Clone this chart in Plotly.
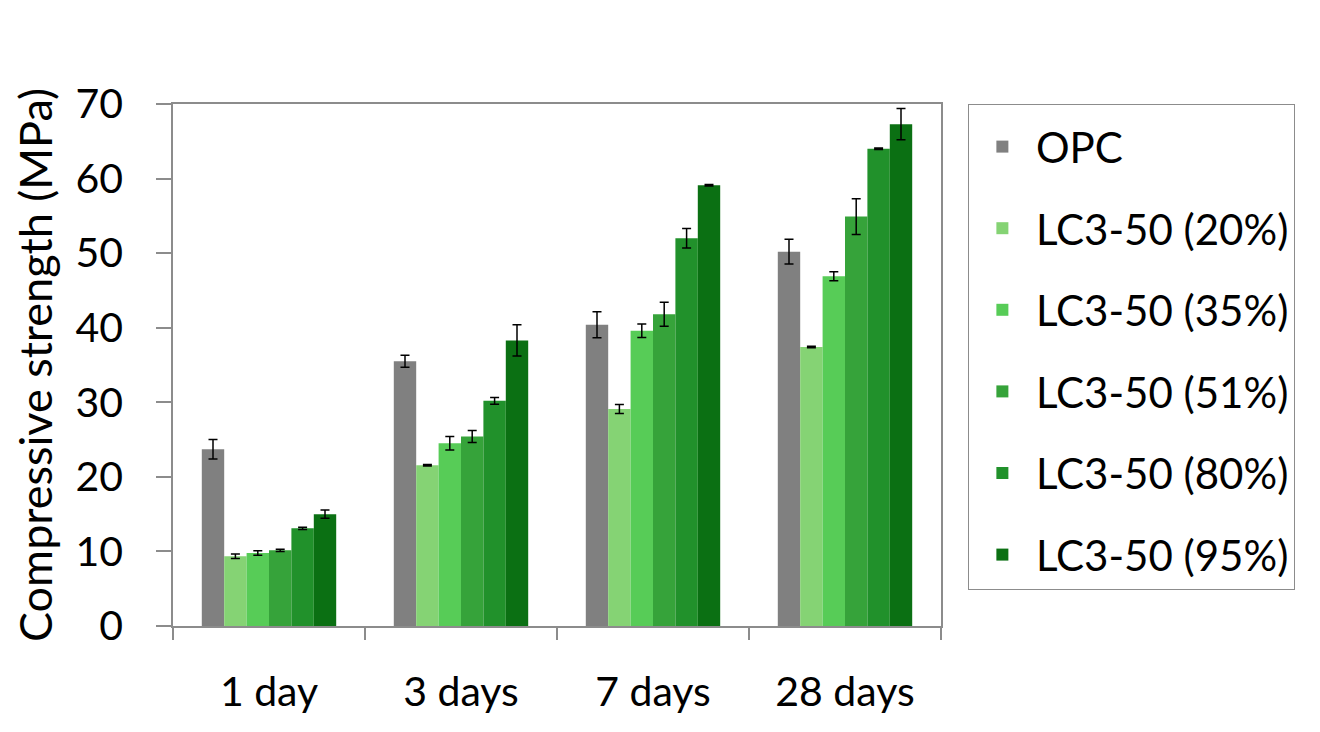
import plotly.graph_objects as go

categories = ["1 day", "3 days", "7 days", "28 days"]
series_names = ["OPC", "LC3-50 (20%)", "LC3-50 (35%)", "LC3-50 (51%)", "LC3-50 (80%)", "LC3-50 (95%)"]
colors = ["#808080", "#85D374", "#57CC57", "#36A33A", "#21912B", "#0B7013"]

opc = [23.7, 35.5, 40.4, 50.2]
lc20 = [9.35, 21.55, 29.1, 37.4]
lc35 = [9.8, 24.5, 39.6, 46.9]
lc51 = [10.15, 25.4, 41.8, 54.9]
lc80 = [13.1, 30.2, 52.0, 64.0]
lc95 = [15.0, 38.3, 59.1, 67.3]

opc_err = [1.3, 0.8, 1.75, 1.65]
lc20_err = [0.3, 0.1, 0.6, 0.1]
lc35_err = [0.3, 0.9, 0.9, 0.6]
lc51_err = [0.15, 0.8, 1.6, 2.4]
lc80_err = [0.15, 0.45, 1.3, 0.1]
lc95_err = [0.55, 2.1, 0.1, 2.1]

values = [opc, lc20, lc35, lc51, lc80, lc95]
errors = [opc_err, lc20_err, lc35_err, lc51_err, lc80_err, lc95_err]

FONT = "Lato"
fig = go.Figure()
for i, (name, vals, errs, col) in enumerate(zip(series_names, values, errors, colors)):
    fig.add_trace(go.Bar(
        x=categories, y=vals, name=name,
        marker=dict(color=col, line=dict(width=0)),
        error_y=dict(type="data", array=errs, visible=True,
                     color="black", thickness=1.5, width=4.5),
        legendgroup=f"g{i}",
    ))

fig.update_layout(
    width=1320, height=732,
    barmode="group", bargap=0.3, bargroupgap=0,
    plot_bgcolor="white", paper_bgcolor="white",
    margin=dict(l=165, r=387, t=96, b=114),
    font=dict(family=FONT, color="black", size=41),
    showlegend=True,
    legend=dict(
        x=1.035, y=1.0, xanchor="left", yanchor="top",
        bordercolor="#8c8c8c", borderwidth=1,
        font=dict(family=FONT, size=42, color="black"),
        tracegroupgap=24,
        itemwidth=57,
        title=dict(text=" ", font=dict(size=6)),
    ),
)
fig.update_xaxes(
    showline=True, linecolor="#8c8c8c", linewidth=1.5, mirror=True,
    ticks="outside", tickson="boundaries", ticklen=12, tickcolor="#8c8c8c", tickwidth=1.5,
    tickfont=dict(family=FONT, size=41, color="black"),
    ticklabelstandoff=29,
    showgrid=False,
)
fig.update_yaxes(
    range=[0, 70], dtick=10,
    showline=True, linecolor="#8c8c8c", linewidth=1.5, mirror=True,
    ticks="outside", ticklen=15, tickcolor="#8c8c8c", tickwidth=1.5,
    tickfont=dict(family=FONT, size=41, color="black"),
    ticklabelstandoff=25,
    showgrid=False, zeroline=False,
    title=dict(text="Compressive strength (MPa)", font=dict(family=FONT, size=45, color="black"), standoff=14),
)

fig.write_html("out.html")
